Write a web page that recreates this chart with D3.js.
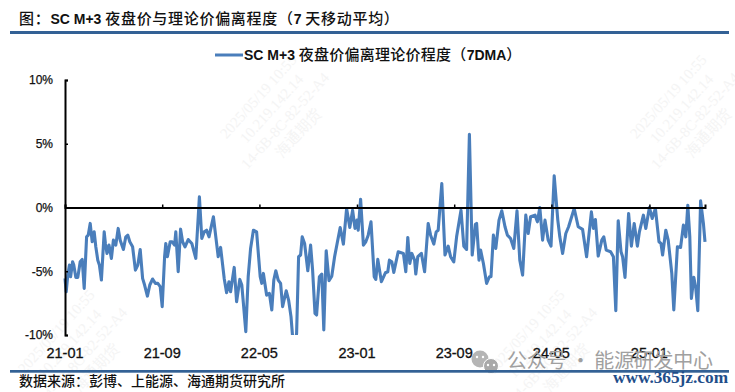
<!DOCTYPE html>
<html><head><meta charset="utf-8">
<script src="https://cdnjs.cloudflare.com/ajax/libs/d3/7.8.5/d3.min.js"></script>
<style>html,body{margin:0;padding:0;background:#fff}svg{display:block}</style>
</head><body><div id="c"></div>
<script>
const titleText = "图：SC M+3 夜盘价与理论价偏离程度（7 天移动平均）";
const seriesName = "SC M+3 夜盘价偏离理论价程度（7DMA）";
const sourceText = "数据来源：彭博、上能源、海通期货研究所";
const tickLabels = ["21-01","21-09","22-05","23-01","23-09","24-05","25-01"];
const tickDays = [0,243,486,730,973,1216,1461];
const yTicks = [10,5,0,-5,-10];
const days = [0,3,7,11,14,19,22,27,32,38,43,48,54,58,63,68,73,77,82,86,91,98,101,105,110,116,121,127,133,138,146,152,157,162,169,176,182,188,194,199,206,212,219,226,232,238,243,249,252,256,263,268,274,277,283,289,294,300,308,317,327,336,342,348,354,360,371,378,383,389,398,404,410,414,423,429,437,442,446,452,458,464,471,479,488,492,496,504,511,517,522,527,533,539,544,553,559,565,569,574,579,584,589,593,599,607,614,619,625,629,636,642,647,653,660,667,674,688,696,704,712,719,725,730,733,739,746,752,758,765,773,777,782,791,801,807,811,817,822,833,846,852,857,862,867,874,877,882,891,899,908,914,922,928,933,942,950,958,964,972,979,990,997,1004,1011,1018,1026,1029,1035,1039,1046,1054,1061,1065,1071,1077,1085,1092,1100,1106,1114,1122,1130,1137,1144,1152,1158,1164,1175,1181,1187,1194,1200,1208,1215,1223,1232,1237,1244,1252,1259,1273,1283,1294,1304,1316,1321,1326,1333,1342,1347,1353,1364,1371,1377,1383,1390,1394,1400,1409,1416,1423,1431,1436,1446,1452,1461,1468,1476,1485,1490,1494,1502,1508,1517,1522,1531,1539,1546,1552,1557,1562,1566,1572,1577,1582,1589,1596,1600];
const values = [-5.56,-6.61,-5.30,-4.52,-5.43,-4.26,-4.52,-5.48,-5.48,-4.26,-4.07,-6.34,-2.30,-2.17,-1.25,-2.69,-1.91,-3.08,-4.13,-4.52,-5.69,-1.91,-2.82,-3.60,-2.95,-3.99,-2.56,-2.95,-1.64,-2.56,-3.29,-2.30,-2.17,-2.69,-3.08,-4.91,-4.52,-3.29,-5.56,-6.08,-6.95,-6.08,-5.61,-5.95,-5.95,-6.21,-7.78,-3.86,-2.82,-3.86,-2.69,-2.69,-2.95,-1.91,-5.04,-1.70,-2.69,-3.08,-2.51,-2.82,-3.99,0.84,-2.43,-1.91,-1.78,-2.30,-0.73,-2.56,-3.86,-3.13,-5.56,-6.68,-5.82,-6.61,-4.70,-7.39,-5.64,-6.08,-7.52,-9.74,-5.43,-3.21,-1.78,-1.91,-5.43,-5.95,-5.17,-6.87,-6.74,-8.04,-5.69,-4.96,-5.69,-5.95,-7.78,-6.53,-7.26,-8.56,-10.13,-11,-9.87,-3.86,-3.73,-2.30,-2.82,-4.96,-2.95,-4.91,-8.30,-8.43,-5.43,-5.22,-9.61,-3.39,-5.74,-5.38,-3.86,-1.57,-2.87,-0.08,-1.57,-0.21,-1.64,-0.99,-1.78,0.65,-2.95,-2.69,-2.17,-1.12,-5.43,-5.64,-4.07,-5.82,-5.12,-5.04,-4.13,-4.26,-5.09,-3.47,-3.60,-5.04,-2.35,-4.39,-3.60,-4.13,-5.22,-3.86,-3.60,-5.04,-1.25,-2.17,-2.87,-1.91,-1.78,1.88,-3.73,-3.03,-3.86,-4.26,-2.30,-0.21,-3.03,-3.29,5.74,-3.73,-1.31,-1.25,-4.13,-3.34,-4.39,-5.95,-5.43,-5.43,-2.17,-3.21,-0.99,-0.26,-1.51,-2.17,-2.43,-3.21,-0.26,-4.13,-5.30,-0.60,-2.04,-0.73,-0.60,-1.12,0,-2.56,-0.99,-2.56,-3.03,2.48,-0.99,-2.30,-3.60,-2.04,-1.51,-0.08,-1.51,-1.72,-3.86,-0.34,-1.64,-0.94,-3.81,-2.56,-2.30,-3.34,-3.47,-3.86,-8.09,-1.04,-3.47,-3.86,-5.48,-0.47,-3.03,-1.25,-3.03,-1.91,-0.60,-1.64,0,-0.86,-0.08,-2.69,-2.82,-3.73,-1.78,-2.56,-5.17,-8.04,-3.08,-3.13,-1.38,-2.30,0.18,-2.30,-7.13,-5.48,-6.34,-8.09,0.52,-1.25,-2.69];

const W=735,H=392;
const latin='"Liberation Sans",Arial,sans-serif';
const cjk='"Noto Sans CJK SC",sans-serif';
const svg=d3.select("#c").append("svg").attr("width",W).attr("height",H).attr("viewBox",[0,0,W,H]);
svg.append("rect").attr("width",W).attr("height",H).attr("fill","#fff");

const wm=svg.append("g").attr("fill","#f4f4f4").attr("font-family",'"Liberation Serif",serif').attr("font-size",15);
[[262,100],[672,100],[60,335],[530,335]].forEach(([a,b])=>{
  const g=wm.append("g").attr("transform",`translate(${a},${b}) rotate(-48)`);
  ["2025/05/19 10:55","10.219.142.14","14-6B-8C-82-52-A4","海通期货"].forEach((s,i)=>g.append("text").attr("y",i*18).attr("text-anchor","middle").text(s));
});

const x=d3.scaleLinear().domain([0,1600]).range([65,705]);
const y=d3.scaleLinear().domain([-10,10]).range([335,80]);

function mixed(str,px,py,cjkSize,ls){
  const t=svg.append("text").attr("x",px).attr("y",py).attr("fill","#111");
  (str.match(/[\x00-\x7f]+|[^\x00-\x7f]+/g)||[]).forEach(run=>{
    const isLatin=/^[\x00-\x7f]/.test(run);
    t.append("tspan").attr("xml:space","preserve").style("white-space","pre")
     .attr("font-family",isLatin?latin:cjk).attr("font-size",isLatin?14:cjkSize)
     .attr("font-weight",isLatin?700:500).attr("letter-spacing",isLatin?0:ls).text(run);
  });
  return t;
}
mixed(titleText,19,24,15,0.7);
svg.append("rect").attr("x",10).attr("y",31).attr("width",719).attr("height",3).attr("fill","#336195");

svg.append("defs").append("clipPath").attr("id","pl").append("rect").attr("x",60).attr("y",y(10)).attr("width",660).attr("height",y(-10)-y(10));
const line=d3.line().x((d,i)=>x(days[i])).y(d=>y(d));
svg.append("path").datum(values).attr("clip-path","url(#pl)").attr("d",line).attr("fill","none").attr("stroke","#4a7ebb").attr("stroke-width",3.1).attr("stroke-linejoin","round");

const xAxis=d3.axisTop(x).tickValues(tickDays).tickSize(3).tickFormat("");
const gx=svg.append("g").attr("transform",`translate(0,${y(0)})`).call(xAxis);
gx.select(".domain").attr("stroke","#000").attr("stroke-width",2);
gx.selectAll(".tick line").attr("stroke","#000").attr("stroke-width",1.5);
const yAxis=d3.axisLeft(y).tickValues(yTicks).tickSize(-3).tickFormat(d=>d+"%");
const gy=svg.append("g").attr("transform",`translate(65,0)`).call(yAxis);
gy.select(".domain").attr("stroke","#000").attr("stroke-width",2);
gy.selectAll(".tick line").attr("stroke","#000").attr("stroke-width",1.5);
gy.selectAll("text").attr("x",-12).attr("font-family",latin).attr("font-size",12).attr("fill","#111").attr("stroke","#111").attr("stroke-width",0.25);

svg.append("g").selectAll("text").data(tickLabels).join("text").attr("x",(d,i)=>x(tickDays[i])).attr("y",357.5)
  .attr("text-anchor","middle").attr("font-family",latin).attr("font-size",14.5).attr("fill","#111").attr("stroke","#111").attr("stroke-width",0.3).text(d=>d);

svg.append("line").attr("x1",215).attr("x2",243).attr("y1",55).attr("y2",55).attr("stroke","#4a7ebb").attr("stroke-width",3);
mixed(seriesName,244,60,15,0.25);
mixed(sourceText,19,386,14,0);

const icon=svg.append("g");
icon.append("circle").attr("cx",480).attr("cy",359).attr("r",8.5).attr("fill","#b5b5b5");
icon.append("circle").attr("cx",491).attr("cy",366).attr("r",7.5).attr("fill","#a9a9a9").attr("stroke","#fff").attr("stroke-width",1);
[[477,357],[483,357],[488,365],[494,365]].forEach(([a,b])=>icon.append("circle").attr("cx",a).attr("cy",b).attr("r",1.2).attr("fill","#fff"));
svg.append("text").attr("x",507).attr("y",368).attr("font-family",cjk).attr("font-size",20).attr("fill","#a0a0a0").attr("textLength",206).attr("lengthAdjust","spacing").text("公众号 · 能源研发中心");
svg.append("rect").attr("x",10).attr("y",370).attr("width",719).attr("height",2.7).attr("fill","#336195");
svg.append("text").attr("x",613).attr("y",382.5).attr("font-family",'"Liberation Serif",serif').attr("font-size",17.5).attr("font-weight",700).attr("fill","#1f4e8a").attr("textLength",115).attr("lengthAdjust","spacingAndGlyphs").text("www.365jz.com");
</script></body></html>
